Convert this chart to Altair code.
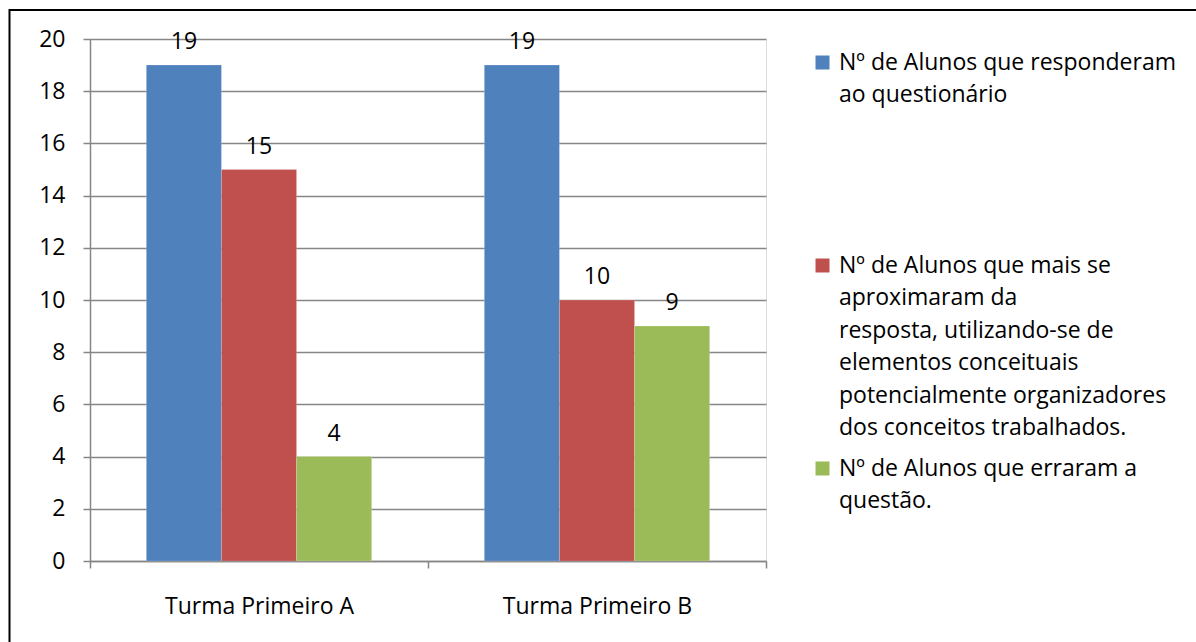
import altair as alt
import pandas as pd

categories = ["Turma Primeiro A", "Turma Primeiro B"]
series = [
    "Nº de Alunos que responderam ao questionário",
    "Nº de Alunos que mais se aproximaram da resposta, utilizando-se de elementos conceituais potencialmente organizadores dos conceitos trabalhados.",
    "Nº de Alunos que erraram a questão.",
]
values_responderam = [19, 19]
values_aproximaram = [15, 10]
values_erraram = [4, 9]
colors = ["#4F81BD", "#C0504D", "#9BBB59"]

# legend label line breaks (as in the original legend)
legend_lines = [
    ["Nº de Alunos que responderam", "ao questionário", "", "", "", ""],
    ["Nº de Alunos que mais se", "aproximaram da", "resposta, utilizando-se de",
     "elementos conceituais", "potencialmente organizadores", "dos conceitos trabalhados."],
    ["Nº de Alunos que erraram a", "questão."],
]

rows = []
for s, vals in zip(series, [values_responderam, values_aproximaram, values_erraram]):
    for c, v in zip(categories, vals):
        rows.append({"Turma": c, "Serie": s, "Valor": v})
df = pd.DataFrame(rows)

def js_arr(lines):
    return "[" + ",".join("'" + l.replace("'", "\\'") + "'" for l in lines) + "]"

label_expr = (
    f"datum.label == '{series[0]}' ? {js_arr(legend_lines[0])} : "
    f"datum.label == '{series[1]}' ? {js_arr(legend_lines[1])} : "
    f"{js_arr(legend_lines[2])}"
)

FONT = "Open Sans"
GRID = "#868686"
FS = 23

base = alt.Chart(df)

bars = base.mark_bar(stroke="white", strokeWidth=0.3, strokeOpacity=0.6).encode(
    x=alt.X("Turma:N", sort=categories, title=None,
            scale=alt.Scale(paddingInner=0, paddingOuter=0),
            axis=alt.Axis(labelAngle=0, tickBand="extent", domainColor=GRID,
                          domainWidth=1.5, tickColor=GRID, tickWidth=1.5,
                          tickSize=7, labelPadding=27, labelFontSize=FS,
                          labelFont=FONT, labelColor="black", grid=False,
                          labelBaseline="top", labelLimit=400)),
    xOffset=alt.XOffset("Serie:N", sort=series,
                        scale=alt.Scale(paddingOuter=0.75, paddingInner=0)),
    y=alt.Y("Valor:Q", title=None,
            scale=alt.Scale(domain=[0, 20], nice=False),
            axis=alt.Axis(values=list(range(0, 21, 2)), grid=True, gridColor=GRID,
                          gridWidth=1.5, domainColor=GRID, domainWidth=1.5,
                          tickColor=GRID, tickWidth=1.5, tickSize=7,
                          labelPadding=18, labelFontSize=FS, labelFont=FONT,
                          labelColor="black")),
    color=alt.Color("Serie:N", sort=series,
                    scale=alt.Scale(domain=series, range=colors),
                    legend=alt.Legend(title=None, orient="none", legendX=721, legendY=12,
                                      symbolType="square", symbolSize=196,
                                      symbolStrokeWidth=0, labelFont=FONT,
                                      labelFontSize=FS, labelColor="black",
                                      labelLimit=600, labelOffset=5,
                                      labelExpr=label_expr, rowPadding=17,
                                      padding=0, labelBaseline="middle")),
)

labels = base.mark_text(font=FONT, fontSize=FS, color="black",
                        baseline="alphabetic", dy=-16).encode(
    x=alt.X("Turma:N", sort=categories),
    xOffset=alt.XOffset("Serie:N", sort=series),
    y="Valor:Q",
    text="Valor:Q",
)

border = alt.Chart(pd.DataFrame({"a": [0]})).mark_rect(
    fill="white", fillOpacity=0, stroke="black", strokeWidth=2
).encode(x=alt.value(-80.5), x2=alt.value(1200), y=alt.value(-29), y2=alt.value(700))

chart = alt.layer(border, bars, labels).properties(
    width=676, height=522,
    padding={"left": 90, "top": 39, "right": 430, "bottom": 81},
    autosize=alt.AutoSizeParams(type="none"),
).configure_view(stroke=None).configure(
    background="white",
    style={"guide-label": {"lineHeight": 32.5}},
)

chart.save("out.html", embed_options={"renderer": "svg", "actions": False})
